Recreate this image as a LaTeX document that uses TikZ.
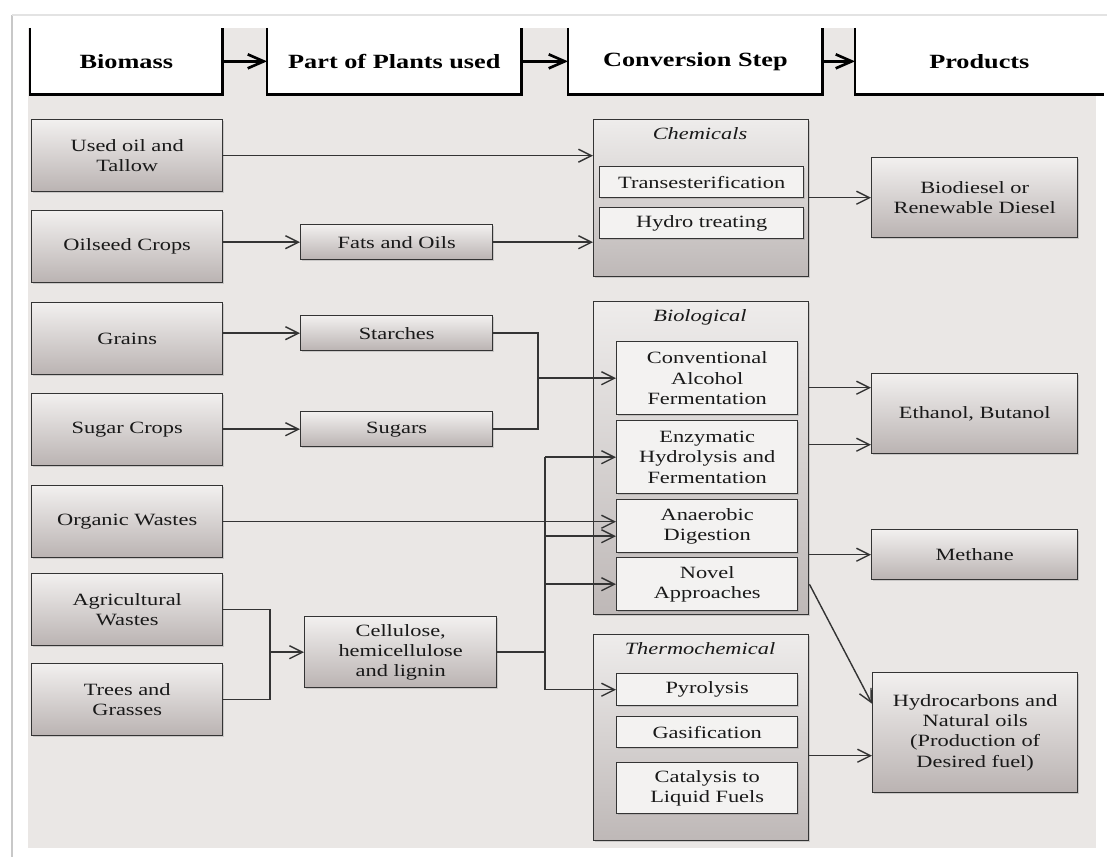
\documentclass[tikz,border=0pt]{standalone}
\usepackage{fontspec}
\setmainfont{Liberation Serif}[FakeStretch=1.3]
\usetikzlibrary{arrows.meta,shadows}

\definecolor{panel}{RGB}{234,231,229}
\definecolor{boxtop}{RGB}{242,240,239}
\definecolor{boxbot}{RGB}{186,179,178}
\definecolor{grptop}{RGB}{238,236,235}
\definecolor{grpbot}{RGB}{190,184,183}
\definecolor{stagefill}{RGB}{243,242,241}
\definecolor{edge}{RGB}{52,52,52}
\definecolor{framegray}{RGB}{200,200,200}

\newlength\px \setlength\px{0.02cm}

\tikzset{
  sz/.style 2 args={minimum width=#1\px, minimum height=#2\px},
  box/.style={draw=edge, line width=0.8pt, top color=boxtop, bottom color=boxbot,
    anchor=north west, align=center, inner sep=1pt, text=black!90,
    drop shadow={opacity=0.3, shadow xshift=0.7pt, shadow yshift=-0.7pt}},
  grp/.style={box, top color=grptop, bottom color=grpbot},
  stage/.style={box, fill=stagefill, top color=stagefill, bottom color=stagefill},
  gtitle/.style={font=\fontsize{9.8}{11.5}\selectfont\itshape, text=black!90},
  head/.style={fill=white, anchor=north west, font=\fontsize{11.5}{13}\selectfont\bfseries},
  hline/.style={line width=1.5pt, line join=miter},
  link/.style={draw=edge, line width=0.8pt},
}

\begin{document}
\begin{tikzpicture}[x=0.02cm, y=-0.02cm, font=\fontsize{9.8}{11.5}\selectfont,
  >={Straight Barb[length=2.6mm,width=2.6mm]}]
\useasboundingbox (0,0) rectangle (1107,857);
\fill[panel] (28,28) rectangle (1096,848);
\draw[framegray, line width=1.2pt] (12,857) -- (12,15);
\draw[framegray!50, line width=0.8pt] (12,15) -- (1107,15);

% headers
\node[head, sz={192}{66}] (hbio) at (30,28) {Biomass};
\node[head, sz={254}{66}] (hpart) at (267,28) {Part of Plants used};
\node[head, sz={254}{66}] (hconv) at (568,28) {Conversion Step};
\node[head, sz={248}{66}] (hprod) at (855,28) {Products};
\foreach \h in {hbio,hpart,hconv}
  \draw[hline] (\h.north west) |- (\h.south east) -- (\h.north east);
\draw[hline] (hprod.north west) |- (hprod.south east);
\draw[hline, -{Straight Barb[length=3.2mm,width=2.8mm]}] (hbio.east) -- (hpart.west);
\draw[hline, -{Straight Barb[length=3.2mm,width=2.8mm]}] (hpart.east) -- (hconv.west);
\draw[hline, -{Straight Barb[length=3.2mm,width=2.8mm]}] (hconv.east) -- (hprod.west);

% biomass
\foreach \n/\y/\t in {used/119/{Used oil and\\Tallow}, oilseed/210/{Oilseed Crops},
    grains/302/{Grains}, sugarcrops/393/{Sugar Crops}, organic/485/{Organic Wastes},
    agri/573/{Agricultural\\Wastes}, trees/663/{Trees and\\Grasses}}
  \node[box, sz={191}{72}] (\n) at (31,\y) {\t};

% parts of plants
\node[box, sz={192}{35}] (fats) at (300,224) {Fats and Oils};
\node[box, sz={192}{35}] (starch) at (300,315) {Starches};
\node[box, sz={192}{35}] (sugars) at (300,411) {Sugars};
\node[box, sz={192}{71}] (cell) at (304,616) {Cellulose,\\hemicellulose\\and lignin};

% conversion
\node[grp, sz={215}{157}] (chem) at (593,119) {};
\node[grp, sz={215}{313}] (bio) at (593,301) {};
\node[grp, sz={215}{206}] (thermo) at (593,634) {};
\node[gtitle] (chemt) at (700,134) {Chemicals};
\node[gtitle] (biot) at (700,317) {Biological};
\node[gtitle] (thermot) at (700,649) {Thermochemical};

\node[stage, sz={204}{31}] (trans) at (599,166) {Transesterification};
\node[stage, sz={204}{31}] (hydro) at (599,207) {Hydro treating};
\node[stage, sz={181}{73}] (conv) at (616,341) {Conventional\\Alcohol\\Fermentation};
\node[stage, sz={181}{73}] (enz) at (616,420) {Enzymatic\\Hydrolysis and\\Fermentation};
\node[stage, sz={181}{53}] (anaer) at (616,499) {Anaerobic\\Digestion};
\node[stage, sz={181}{53}] (novel) at (616,557) {Novel\\Approaches};
\node[stage, sz={181}{32}] (pyro) at (616,673) {Pyrolysis};
\node[stage, sz={181}{31}] (gasif) at (616,716) {Gasification};
\node[stage, sz={181}{51}] (catal) at (616,762) {Catalysis to\\Liquid Fuels};

% products
\node[box, sz={206}{80}] (biodiesel) at (871,157) {Biodiesel or\\Renewable Diesel};
\node[box, sz={206}{80}] (ethanol) at (871,373) {Ethanol, Butanol};
\node[box, sz={206}{50}] (methane) at (871,529) {Methane};
\node[box, sz={205}{120}] (hydrocarb) at (872,672) {Hydrocarbons and\\Natural oils\\(Production of\\Desired fuel)};

% links
\draw[link,->] (used) -- (used -| chem.west);
\draw[link,->] (fats.west -| oilseed.east) -- (fats.west);
\draw[link,->] (fats) -- (fats -| chem.west);
\draw[link,->] (starch.west -| grains.east) -- (starch.west);
\draw[link,->] (sugars.west -| sugarcrops.east) -- (sugars.west);
\coordinate (j1) at (538,0);
\draw[link] (starch.east) -| (j1 |- sugars.east) -- (sugars.east);
\draw[link,->] (j1 |- conv.west) -- (conv.west);
\draw[link,->] (organic) -- (organic -| anaer.west);

\coordinate (j2) at (270,0);
\draw[link] (agri.east) -| (j2 |- trees.east) -- (trees.east);
\draw[link,->] (j2 |- cell.west) -- (cell.west);

\coordinate (bus) at (545,0);
\coordinate (anin) at ([yshift=-10\px]anaer.west);
\draw[link] (cell) -- (cell -| bus);
\draw[link] (bus |- enz.west) -- (bus |- pyro.west);
\foreach \t in {enz.west,anin,novel.west,pyro.west}
  \draw[link,->] (bus |- \t) -- (\t);

\coordinate (et1) at ([yshift=26\px]ethanol.west);
\coordinate (et2) at ([yshift=-31\px]ethanol.west);
\coordinate (hc1) at ([yshift=29\px]hydrocarb.west);
\coordinate (hc2) at ([yshift=-23\px]hydrocarb.west);
\draw[link,->] (biodiesel.west -| chem.east) -- (biodiesel.west);
\draw[link,->] (et1 -| bio.east) -- (et1);
\draw[link,->] (et2 -| bio.east) -- (et2);
\draw[link,->] (methane.west -| bio.east) -- (methane.west);
\draw[link,->] (novel.east -| bio.east) -- (hc1);
\draw[link,->] (hc2 -| thermo.east) -- (hc2);
\end{tikzpicture}
\end{document}
